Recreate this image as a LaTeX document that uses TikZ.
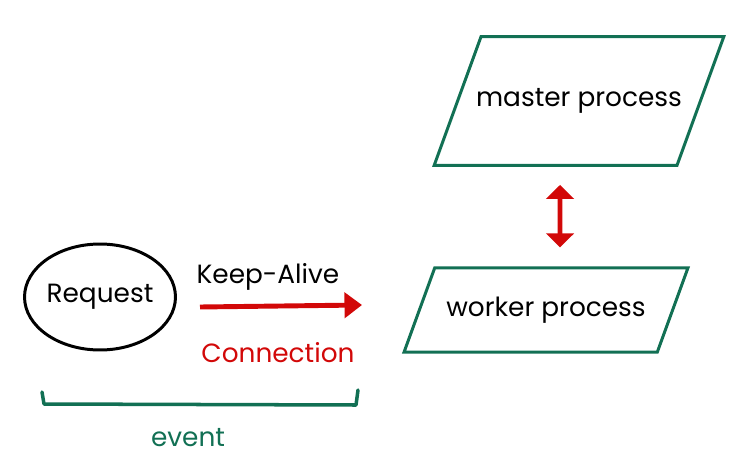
\documentclass[tikz,border=0pt]{standalone}
\usepackage{fontspec}
\setmainfont{Poppins}
\usetikzlibrary{arrows.meta,positioning,calc,shapes.geometric}
\definecolor{procgreen}{RGB}{18,112,84}
\definecolor{connred}{RGB}{210,8,8}

\begin{document}
\begin{tikzpicture}
  [x=0.02cm,y=-0.02cm,
   every node/.style={font=\fontsize{15}{18}\selectfont},
   proc/.style={trapezium,trapezium left angle=70,trapezium right angle=110,
     trapezium stretches body=true,draw=procgreen,line width=1.7pt},
   conn/.style={draw=connred,line width=2.8pt,-{Triangle[length=0.35cm,width=0.5cm]}},
   dbl/.style={draw=connred,line width=2.8pt,
     {Triangle[length=0.28cm,width=0.55cm]}-{Triangle[length=0.28cm,width=0.55cm]},
     shorten <=0.36cm,shorten >=0.38cm}]
  \useasboundingbox (0,0) rectangle (750,473);

  \node[ellipse,draw,line width=1.7pt,inner sep=0pt,minimum width=3.02cm,minimum height=2.12cm] (request) at (100,297) {Request};
  \node[proc,inner xsep=-0.1cm,inner ysep=1.04cm] (master) at (579,101) {master process};
  \node[proc,minimum width=5.68cm,inner ysep=0.58cm] (worker) at (546,310) {worker process};

  \coordinate (kastart) at (200,307);
  \coordinate (kaend) at (362,305);
  \draw[conn] (kastart) -- (kaend);
  \node (keepalive) at (268,277) {Keep-Alive};
  \node[text=connred] (connection) at (278,353) {Connection};

  \draw[dbl] ($(master.south)+(-19,0)$) -- ($(worker.north)+(14,0)$);

  \coordinate (evl) at (42,392);
  \coordinate (evr) at (358,390);
  \draw[procgreen,line width=2pt,line join=round,line cap=round]
    (evl) -- ++(2,12) -- ($(evr)+(-2,15)$) -- (evr);
  \node[text=procgreen] (event) at (188,438) {event};
\end{tikzpicture}
\end{document}
